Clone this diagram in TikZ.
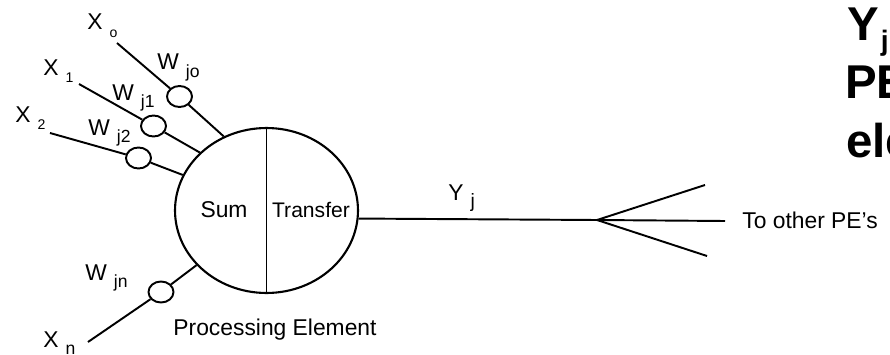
\documentclass[tikz,border=0pt]{standalone}
\usepackage{fontspec}
\setmainfont{Liberation Sans}
\usetikzlibrary{shapes.geometric}
\newcommand{\sublab}[3][8]{#2\hspace{4pt}\raisebox{-4pt}{\fontsize{#1}{#1}\selectfont #3}}

\begin{document}
\begin{tikzpicture}[x=0.02cm, y=-0.02cm,
		weight/.style = {draw, ellipse, line width=1.1pt, minimum width=0.5cm, minimum height=0.42cm, inner sep=0pt, fill=white},
		txt/.style = {inner sep=0pt, font=\fontsize{13}{13}\selectfont},
		big/.style = {inner sep=0pt, anchor=base west, font=\fontsize{27}{27}\selectfont\bfseries}]
				\tikzstyle{wire}=[line width=1.1pt]
				\useasboundingbox (0,0) rectangle (890,355);
				% processing element
				\node (pe) at (266.5,210.5) [draw, ellipse, line width=1.2pt, minimum width=3.66cm, minimum height=3.3cm, inner sep=0pt] {};
				\draw[wire] (pe.north) -- (pe.south);
				\node (sum) at (224,210) [txt] {Sum};
				\node (tr) at (311,210) [txt, font=\fontsize{12}{12}\selectfont] {Transfer};
				\node (pename) at (275,335) [txt, anchor=base] {Processing Element};
				% inputs and weights
				\coordinate (x0) at (117,43);
				\coordinate (x1) at (79,84);
				\coordinate (x2) at (50,133);
				\coordinate (xn) at (88,342);
				\node (w0) at (179.5,96.5) [weight] {};
				\node (w1) at (153.5,126) [weight] {};
				\node (w2) at (138.5,158) [weight] {};
				\node (wn) at (161,292) [weight] {};
				\draw[wire] (x0) -- (w0) -- (pe.120.3);
				\draw[wire] (x1) -- (w1) -- (pe.139.2);
				\draw[wire] (x2) -- (w2) -- (pe.157.7);
				\draw[wire] (xn) -- (wn) -- (pe.218.3);
				\node (lx0) at (87,30) [txt, anchor=base west] {\sublab{X}{o}};
				\node (lx1) at (43,75) [txt, anchor=base west] {\sublab{X}{1}};
				\node (lx2) at (15,122) [txt, anchor=base west] {\sublab{X}{2}};
				\node (lxn) at (43,347) [txt, anchor=base west] {\sublab[10]{X}{n}};
				\node (lw0) at (157,70) [txt, anchor=base west] {\sublab[10]{W}{jo}};
				\node (lw1) at (112,100) [txt, anchor=base west] {\sublab[10]{W}{j1}};
				\node (lw2) at (88,135) [txt, anchor=base west] {\sublab[10]{W}{j2}};
				\node (lwn) at (85,280) [txt, anchor=base west] {\sublab[10]{W}{jn}};
				% output and fan out
				\coordinate (br) at (597,220);
				\coordinate (b1) at (705,185);
				\coordinate (b2) at (725,221);
				\coordinate (b3) at (707,256);
				\draw[wire] (pe.-5) -- (br);
				\draw[wire] (br) -- (b1);
				\draw[wire] (br) -- (b2);
				\draw[wire] (br) -- (b3);
				\node (ly) at (448,200) [txt, anchor=base west] {\sublab[11]{Y}{j}};
				\node (tope) at (742,228) [txt, anchor=base west] {To other PE's};
				% caption on the right
				\node (cy) at (847,40) [big] {Y\hspace{1pt}\raisebox{-6pt}{\fontsize{16}{16}\selectfont j}};
				\node (cpe) at (845,98) [big] {PE};
				\node (cel) at (846,157) [big] {ele};
				\end{tikzpicture}
\end{document}
